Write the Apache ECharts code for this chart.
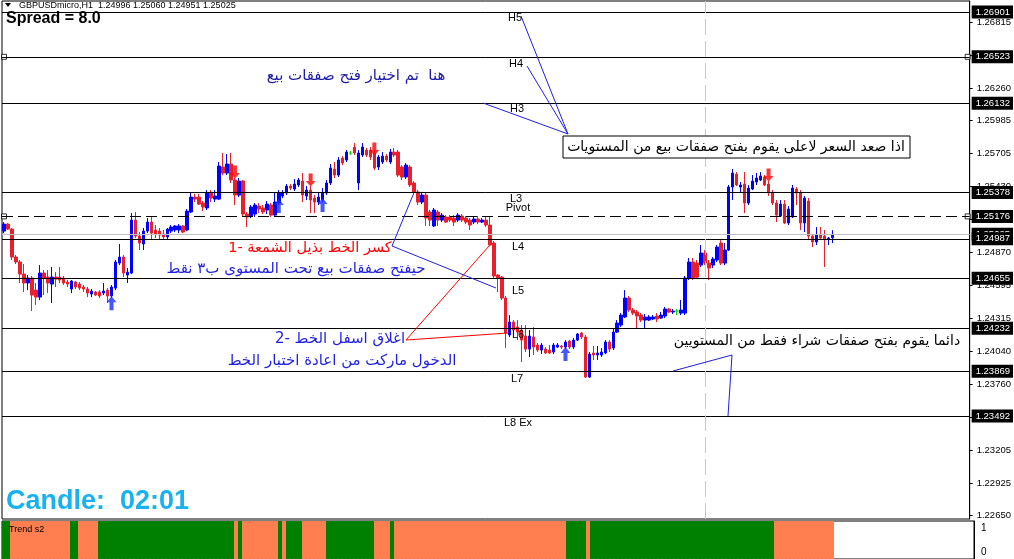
<!DOCTYPE html>
<html><head><meta charset="utf-8">
<script src="https://cdn.jsdelivr.net/npm/echarts@6/dist/echarts.min.js"></script>
<style>html,body{margin:0;padding:0;background:#fff}#c{width:1014px;height:559px}</style>
</head><body><div id="c"></div>
<script>
// ---- data ----
const categories = Array.from({length: 243}, (_, i) => 'bar ' + (i + 1));
const openPrices = [
1.25052,1.25111,1.25069,1.24833,1.24791,1.24689,1.24614,1.24656,1.24554,1.24495,
1.24698,1.24664,1.24605,1.24664,1.24664,1.24656,1.24622,1.24563,1.24622,1.24605,
1.24580,1.24563,1.24521,1.24538,1.24538,1.24529,1.24554,1.24504,1.24571,1.24782,
1.24833,1.24681,1.24698,1.25145,1.25010,1.24943,1.25052,1.25128,1.25061,1.25052,
1.25027,1.25002,1.25052,1.25061,1.25061,1.25095,1.25061,1.25213,1.25339,1.25339,
1.25289,1.25247,1.25373,1.25322,1.25322,1.25593,1.25542,1.25618,1.25483,1.25356,
1.25474,1.25196,1.25179,1.25196,1.25263,1.25247,1.25230,1.25272,1.25187,1.25289,
1.25348,1.25373,1.25432,1.25407,1.25441,1.25474,1.25348,1.25398,1.25331,1.25297,
1.25314,1.25373,1.25458,1.25576,1.25525,1.25668,1.25652,1.25711,1.25761,1.25458,
1.25694,1.25736,1.25736,1.25711,1.25593,1.25635,1.25685,1.25635,1.25719,1.25719,
1.25593,1.25508,1.25593,1.25458,1.25382,1.25297,1.25356,1.25213,1.25095,1.25213,
1.25145,1.25171,1.25171,1.25162,1.25145,1.25179,1.25162,1.25145,1.25128,1.25154,
1.25128,1.25145,1.25103,1.24951,1.24681,1.24664,1.24487,1.24175,1.24284,1.24242,
1.24217,1.24166,1.24056,1.24158,1.24090,1.24048,1.24056,1.24048,1.24031,1.24073,
1.24082,1.24073,1.24124,1.24073,1.24132,1.24192,1.24158,1.23820,1.24023,1.24006,
1.24006,1.24023,1.24116,1.24065,1.24200,1.24259,1.24327,1.24487,1.24386,1.24369,
1.24343,1.24301,1.24301,1.24310,1.24335,1.24318,1.24335,1.24394,1.24369,1.24377,
1.24360,1.24360,1.24656,1.24791,1.24782,1.24765,1.24867,1.24782,1.24765,1.24808,
1.24951,1.24782,1.24892,1.25424,1.25533,1.25424,1.25449,1.25289,1.25407,1.25466,
1.25483,1.25508,1.25449,1.25373,1.25289,1.25179,1.25280,1.25120,1.25171,1.25407,
1.25373,1.25120,1.25306,1.25010,1.24960,1.25019,1.25010,1.24985,1.24996];
const closePrices = [
1.25111,1.25069,1.24833,1.24791,1.24689,1.24614,1.24656,1.24512,1.24495,1.24698,
1.24656,1.24614,1.24664,1.24647,1.24639,1.24614,1.24605,1.24630,1.24580,1.24571,
1.24563,1.24529,1.24546,1.24512,1.24504,1.24546,1.24504,1.24580,1.24791,1.24833,
1.24698,1.24706,1.25145,1.25010,1.24951,1.25052,1.25128,1.25035,1.25027,1.25019,
1.25002,1.25069,1.25086,1.25095,1.25095,1.25044,1.25221,1.25339,1.25322,1.25280,
1.25255,1.25373,1.25331,1.25348,1.25601,1.25542,1.25618,1.25483,1.25356,1.25474,
1.25196,1.25171,1.25255,1.25272,1.25238,1.25213,1.25280,1.25187,1.25297,1.25373,
1.25373,1.25432,1.25415,1.25449,1.25483,1.25356,1.25398,1.25314,1.25297,1.25339,
1.25373,1.25458,1.25584,1.25525,1.25652,1.25626,1.25719,1.25711,1.25711,1.25711,
1.25761,1.25694,1.25677,1.25584,1.25677,1.25685,1.25652,1.25719,1.25694,1.25525,
1.25508,1.25609,1.25441,1.25382,1.25297,1.25356,1.25162,1.25145,1.25230,1.25145,
1.25187,1.25128,1.25145,1.25128,1.25187,1.25145,1.25128,1.25103,1.25154,1.25128,
1.25145,1.25103,1.24934,1.24673,1.24656,1.24487,1.24192,1.24284,1.24217,1.24200,
1.24132,1.24056,1.24166,1.24073,1.24048,1.24090,1.24023,1.24023,1.24090,1.24090,
1.24073,1.24116,1.24073,1.24132,1.24183,1.24158,1.23820,1.24014,1.24006,1.24023,
1.24031,1.24116,1.24056,1.24200,1.24276,1.24343,1.24487,1.24386,1.24360,1.24335,
1.24301,1.24327,1.24327,1.24327,1.24310,1.24343,1.24394,1.24369,1.24377,1.24377,
1.24386,1.24656,1.24791,1.24656,1.24664,1.24867,1.24782,1.24740,1.24816,1.24917,
1.24782,1.24892,1.25424,1.25542,1.25441,1.25441,1.25289,1.25415,1.25474,1.25500,
1.25517,1.25441,1.25373,1.25289,1.25187,1.25280,1.25120,1.25238,1.25415,1.25373,
1.25120,1.25331,1.25010,1.24960,1.25019,1.24993,1.24985,1.24993,1.25025];
const highPrices = [
1.25128,1.25120,1.25078,1.24850,1.24808,1.24774,1.24681,1.24673,1.24614,1.24765,
1.24723,1.24723,1.24749,1.24706,1.24749,1.24673,1.24639,1.24639,1.24630,1.24622,
1.24597,1.24580,1.24563,1.24546,1.24554,1.24614,1.24571,1.24597,1.24808,1.24943,
1.24850,1.24740,1.25204,1.25213,1.25044,1.25078,1.25162,1.25171,1.25103,1.25078,
1.25061,1.25078,1.25103,1.25103,1.25111,1.25103,1.25238,1.25373,1.25365,1.25365,
1.25306,1.25398,1.25398,1.25398,1.25635,1.25711,1.25702,1.25711,1.25500,1.25500,
1.25483,1.25213,1.25272,1.25289,1.25289,1.25272,1.25306,1.25289,1.25382,1.25398,
1.25398,1.25449,1.25449,1.25491,1.25500,1.25542,1.25432,1.25432,1.25356,1.25382,
1.25415,1.25483,1.25618,1.25635,1.25677,1.25685,1.25736,1.25728,1.25795,1.25736,
1.25795,1.25753,1.25761,1.25736,1.25694,1.25719,1.25702,1.25745,1.25753,1.25736,
1.25609,1.25626,1.25609,1.25474,1.25398,1.25382,1.25373,1.25230,1.25247,1.25230,
1.25204,1.25187,1.25187,1.25187,1.25204,1.25196,1.25179,1.25162,1.25171,1.25179,
1.25162,1.25171,1.25179,1.24968,1.24689,1.24673,1.24504,1.24343,1.24301,1.24301,
1.24259,1.24259,1.24217,1.24242,1.24107,1.24107,1.24073,1.24090,1.24107,1.24107,
1.24090,1.24132,1.24132,1.24149,1.24192,1.24200,1.24175,1.24031,1.24082,1.24082,
1.24065,1.24132,1.24132,1.24234,1.24301,1.24360,1.24554,1.24504,1.24403,1.24386,
1.24360,1.24352,1.24343,1.24343,1.24360,1.24369,1.24411,1.24403,1.24394,1.24394,
1.24470,1.24673,1.24825,1.24825,1.24808,1.24934,1.24892,1.24808,1.24833,1.24934,
1.24976,1.24951,1.25441,1.25576,1.25550,1.25466,1.25550,1.25441,1.25525,1.25542,
1.25550,1.25525,1.25474,1.25398,1.25314,1.25314,1.25314,1.25263,1.25441,1.25424,
1.25398,1.25348,1.25331,1.25027,1.25086,1.25086,1.25061,1.25002,1.25060];
const lowPrices = [
1.25035,1.25061,1.24808,1.24774,1.24614,1.24538,1.24554,1.24377,1.24428,1.24470,
1.24512,1.24529,1.24445,1.24580,1.24614,1.24597,1.24580,1.24529,1.24563,1.24554,
1.24538,1.24495,1.24495,1.24504,1.24487,1.24512,1.24445,1.24487,1.24554,1.24765,
1.24664,1.24614,1.24689,1.24993,1.24892,1.24892,1.25035,1.24985,1.24993,1.24985,
1.24985,1.24985,1.25035,1.25044,1.25035,1.25035,1.25052,1.25204,1.25297,1.25272,
1.25221,1.25230,1.25297,1.25297,1.25314,1.25525,1.25525,1.25458,1.25272,1.25339,
1.25171,1.25086,1.25162,1.25171,1.25204,1.25196,1.25196,1.25171,1.25171,1.25272,
1.25331,1.25356,1.25398,1.25390,1.25424,1.25297,1.25314,1.25204,1.25204,1.25272,
1.25297,1.25356,1.25441,1.25500,1.25508,1.25609,1.25635,1.25694,1.25694,1.25398,
1.25677,1.25677,1.25652,1.25567,1.25567,1.25618,1.25635,1.25618,1.25677,1.25508,
1.25483,1.25491,1.25424,1.25356,1.25272,1.25280,1.25095,1.25095,1.25086,1.25095,
1.25128,1.25120,1.25128,1.25095,1.25128,1.25128,1.25111,1.25061,1.25111,1.25111,
1.25120,1.25086,1.24926,1.24656,1.24538,1.24470,1.24065,1.24158,1.24192,1.24132,
1.23947,1.24031,1.23989,1.24006,1.24031,1.24014,1.24014,1.24014,1.24014,1.24065,
1.24056,1.24056,1.24056,1.24056,1.24124,1.24141,1.23812,1.23812,1.23964,1.23964,
1.23989,1.24014,1.24031,1.24048,1.24192,1.24242,1.24318,1.24369,1.24343,1.24225,
1.24284,1.24225,1.24293,1.24301,1.24284,1.24310,1.24318,1.24360,1.24352,1.24343,
1.24343,1.24343,1.24639,1.24639,1.24647,1.24749,1.24765,1.24639,1.24740,1.24791,
1.24765,1.24765,1.24884,1.25314,1.25432,1.25382,1.25204,1.25272,1.25398,1.25441,
1.25474,1.25432,1.25348,1.25272,1.25128,1.25171,1.25111,1.25103,1.25162,1.25272,
1.25061,1.25044,1.24976,1.24917,1.24934,1.24976,1.24749,1.24934,1.24951];
const levelNames  = ['H5','H4','H3','L3','Pivot','L4','L5','L6','L7','L8 Ex'];
const levelPrices = [1.26901,1.26523,1.26132,1.25378,1.25176,1.24987,1.24655,1.24232,1.23869,1.23492];
const bidPrice = 1.25025;
const tickLabels = ['1.22650','1.22925','1.23205','1.23480','1.23760','1.24040','1.24315','1.24595',
  '1.24870','1.25150','1.25430','1.25705','1.25985','1.26260','1.26540','1.26815'];
const buyArrowBars = [27, 69, 80, 141];
const buyArrowPrices = [1.24443, 1.25264, 1.25272, 1.24014];
const sellArrowBars = [58, 77, 93, 192];
const sellArrowPrices = [1.25550, 1.25483, 1.25745, 1.25525];
// Trend s2 histogram: 1 = green (up), 0 = coral (down)
const trendUp = [
1,1,0,0,0,0,0,0,0,0, 0,0,0,0,0,0,0,1,1,0, 0,0,0,0,1,1,1,1,1,1, 1,1,1,1,1,1,1,1,1,1,
1,1,1,1,1,1,1,1,1,1, 1,1,1,1,1,1,1,1,0,1, 0,0,0,0,0,0,0,0,0,1, 0,1,1,1,1,0,0,0,0,0,
0,1,1,1,1,1,1,1,1,1, 1,1,1,0,0,0,0,1,0,0, 0,0,0,0,0,0,0,0,0,0, 0,0,0,0,0,0,0,0,0,0,
0,0,0,0,0,0,0,0,0,0, 0,0,0,0,0,0,0,0,0,0, 0,1,1,1,1,1,0,1,1,1, 1,1,1,1,1,1,1,1,1,1,
1,1,1,1,1,1,1,1,1,1, 1,1,1,1,1,1,1,1,1,1, 1,1,1,1,1,1,1,1,1,1, 1,1,1,0,0,0,0,0,0,0,
0,0,0,0,0,0,0,0];
const separatorBar = 176;

// ---- chart ----
const FONT = 'Liberation Sans, Arial, sans-serif';
const AR = 'DejaVu Sans, sans-serif';
const candleData = openPrices.map((o, i) => [o, closePrices[i], lowPrices[i], highPrices[i]]);
const trendData = trendUp.map(v => {
  const c = v ? '#008000' : '#FF7F50';
  return { value: 1, itemStyle: { color: c, borderColor: c, borderWidth: 1 } };
});
const boxLabel = (txt) => ({ show: true, position: 'end', distance: 2, formatter: txt,
  backgroundColor: '#000', color: '#fff', fontSize: 9.5, fontFamily: FONT, padding: [2, 3, 1, 4] });
const levelLines = [
  { yAxis: bidPrice, lineStyle: { color: '#c0c0c0', width: 1, type: 'solid' }, label: boxLabel(bidPrice.toFixed(5)) }
].concat(levelPrices.map((p, i) => ({
  yAxis: p,
  lineStyle: { color: '#000', width: 1, type: levelNames[i] === 'Pivot' ? [11, 5] : 'solid' },
  label: boxLabel(p.toFixed(5))
})));
const squareLevels = levelPrices.filter((p, i) => levelNames[i] === 'H4' || levelNames[i] === 'Pivot');
const squarePoints = [];
squareLevels.forEach(p => { squarePoints.push([0, p]); squarePoints.push([categories.length - 1, p]); });

const chart = echarts.init(document.getElementById('c'));
const txt = (text, x, y, color, font, align) => ({ type: 'text', x: x, y: y, z: 100,
  style: { text: text, fill: color, font: font, align: align || 'center', verticalAlign: 'middle' } });
const line = (pts, color) => ({ type: 'polyline', z: 90, shape: { points: pts },
  style: { stroke: color, lineWidth: 1, fill: null } });

chart.setOption({
  animation: false,
  backgroundColor: '#fff',
  grid: [
    { left: 2, top: 1, width: 972, height: 518, show: true, borderColor: '#000', borderWidth: 1, backgroundColor: '#fff' },
    { left: 2, top: 521, width: 972, height: 40, show: true, borderColor: '#000', borderWidth: 1, backgroundColor: '#fff' }
  ],
  xAxis: [
    { type: 'category', data: categories, gridIndex: 0, boundaryGap: true, show: false },
    { type: 'category', data: categories, gridIndex: 1, boundaryGap: true, show: false }
  ],
  yAxis: [
    { type: 'value', gridIndex: 0, position: 'right', min: 1.22622, max: 1.26994, scale: true,
      axisLine: { show: true, lineStyle: { color: '#000' } },
      axisTick: { show: true, length: 3, customValues: tickLabels.map(Number), lineStyle: { color: '#000' } },
      axisLabel: { show: true, customValues: tickLabels.map(Number), formatter: v => v.toFixed(5),
        color: '#000', fontSize: 9.5, fontFamily: FONT, margin: 7 },
      splitLine: { show: false } },
    { type: 'value', gridIndex: 1, min: 0, max: 1, show: false },
    { type: 'value', gridIndex: 1, position: 'right', min: -0.30, max: 1.30,
      axisLine: { show: true, lineStyle: { color: '#000' } },
      axisTick: { show: false },
      axisLabel: { show: true, customValues: [0, 1], color: '#000', fontSize: 10, fontFamily: FONT, margin: 7 },
      splitLine: { show: false } }
  ],
  series: [
    { type: 'line', name: 'levels', xAxisIndex: 0, yAxisIndex: 0, data: [], z: 1,
      markLine: { silent: true, animation: false, precision: 5, symbol: ['none', 'none'], data: levelLines } },
    { type: 'line', name: 'separator', xAxisIndex: 0, yAxisIndex: 0, data: [], z: 1,
      markLine: { silent: true, animation: false, symbol: ['none', 'none'], label: { show: false },
        lineStyle: { color: '#c8c8c8', width: 1, type: [16, 6] },
        data: [{ xAxis: categories[separatorBar] }] } },
    { type: 'scatter', name: 'level anchors', xAxisIndex: 0, yAxisIndex: 0, data: squarePoints,
      symbol: 'rect', symbolSize: 5, itemStyle: { color: '#fff', borderColor: '#000', borderWidth: 1 }, z: 3 },
    { type: 'candlestick', name: 'GBPUSDmicro,H1', xAxisIndex: 0, yAxisIndex: 0, data: candleData,
      barWidth: 3, z: 4,
      itemStyle: { color: '#0000ff', color0: '#e8202c', borderColor: '#0000ff', borderColor0: '#e8202c',
        borderColorDoji: '#00e000', borderWidth: 1 } },
    { type: 'scatter', name: 'buy', xAxisIndex: 0, yAxisIndex: 0,
      data: buyArrowBars.map((b, i) => [b, buyArrowPrices[i]]),
      symbol: 'path://M5,0 L10,6 L7,6 L7,14 L3,14 L3,6 L0,6 Z', symbolSize: [10, 14],
      itemStyle: { color: '#1a2cff' }, z: 5 },
    { type: 'scatter', name: 'sell', xAxisIndex: 0, yAxisIndex: 0,
      data: sellArrowBars.map((b, i) => [b, sellArrowPrices[i]]),
      symbol: 'path://M3,0 L7,0 L7,8 L10,8 L5,14 L0,8 L3,8 Z', symbolSize: [10, 13],
      itemStyle: { color: '#ff0000' }, z: 5 },
    { type: 'bar', name: 'Trend s2', xAxisIndex: 1, yAxisIndex: 1, data: trendData,
      barCategoryGap: '0%', barGap: '0%' }
  ],
  graphic: [
    { type: 'polygon', z: 100, shape: { points: [[5, 3], [11, 3], [8, 7]] }, style: { fill: '#000' } },
    txt('GBPUSDmicro,H1  1.24996 1.25060 1.24951 1.25025', 19, 6, '#000', '9px ' + FONT, 'left'),
    txt('Spread = 8.0', 6, 19, '#000', 'bold 16px ' + FONT, 'left'),
    txt('Candle:  02:01', 6, 502, '#1ab2ee', 'bold 27px ' + FONT, 'left'),
    txt('Trend s2', 9, 530, '#000', '9px ' + FONT, 'left'),
    txt('H5', 515, 18, '#000', '11px ' + FONT), txt('H4', 516, 64, '#000', '11px ' + FONT),
    txt('H3', 517, 109, '#000', '11px ' + FONT), txt('L3', 516, 199, '#000', '11px ' + FONT),
    txt('Pivot', 518, 208, '#000', '11px ' + FONT), txt('L4', 518, 247, '#000', '11px ' + FONT),
    txt('L5', 518, 291, '#000', '11px ' + FONT), txt('L6', 518, 335, '#000', '11px ' + FONT),
    txt('L7', 517, 379, '#000', '11px ' + FONT), txt('L8 Ex', 518, 423, '#000', '11px ' + FONT),
    { type: 'rect', z: 95, shape: { x: 563, y: 136, width: 347, height: 22 }, style: { stroke: '#000', fill: '#fff', lineWidth: 1 } },
    txt('اذا صعد السعر لاعلى يقوم بفتح صفقات بيع من المستويات', 736, 147, '#000', '14px ' + AR),
    txt('هنا  تم اختيار فتح صفقات بيع', 356, 76, '#1c1ca8', '15px ' + AR),
    txt('كسر الخط بذيل الشمعة -1', 310, 248, '#ff0000', '14.5px ' + AR),
    txt('حيفتح صفقات بيع تحت المستوى ب٣ نقط', 296, 269, '#1f1fe6', '15px ' + AR),
    txt('اغلاق اسفل الخط -2', 340, 339, '#1f1fe6', '15px ' + AR),
    txt('الدخول ماركت من اعادة اختبار الخط', 342, 361, '#1f1fe6', '15px ' + AR),
    txt('دائما يقوم بفتح صفقات شراء فقط من المستويين', 817, 341, '#000', '14px ' + AR),
    line([[521, 16], [568, 134]], '#1f1fe6'),
    line([[527, 66], [568, 134]], '#1f1fe6'),
    line([[483, 103], [568, 134]], '#1f1fe6'),
    line([[413, 195], [392, 246], [496, 288]], '#1f1fe6'),
    line([[489, 246], [406, 340], [508, 333]], '#ff0000'),
    line([[673, 371], [732, 355], [728, 416]], '#1f1fe6')
  ]
});
</script></body></html>
